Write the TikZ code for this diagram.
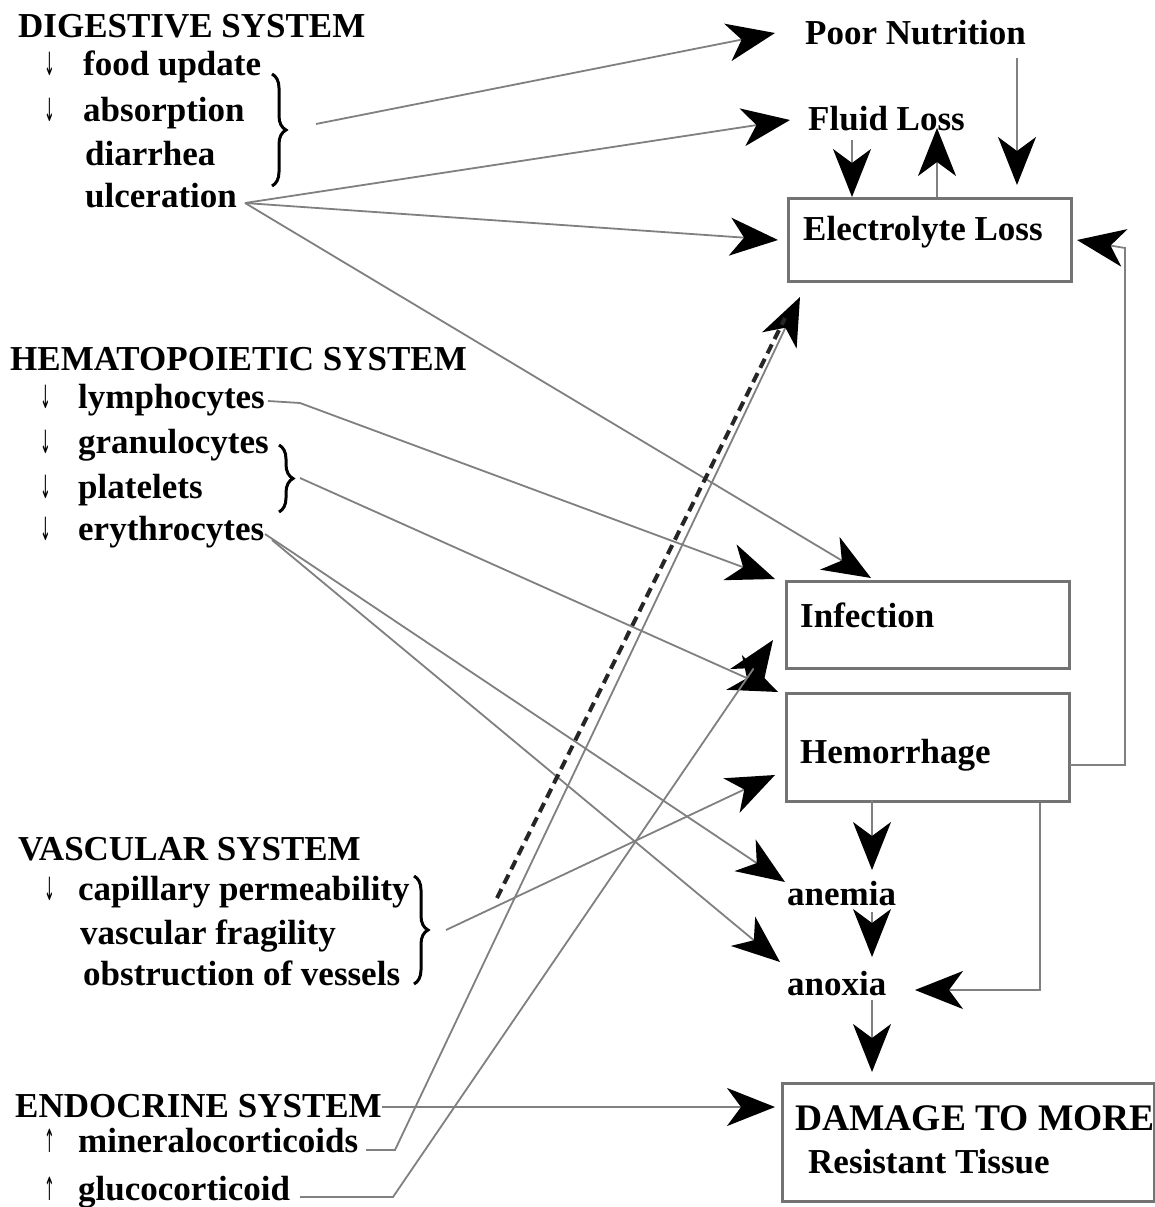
\documentclass[tikz,border=0pt]{standalone}
\usepackage{fontspec}
\usepackage{graphicx}
\setmainfont{Liberation Serif}
\newfontfamily\arrfont{DejaVu Sans}
\usetikzlibrary{arrows.meta,decorations.pathreplacing}
\newcommand{\dn}{{\arrfont\scalebox{0.4}[1]{↓}}}
\newcommand{\upa}{{\arrfont\scalebox{0.4}[1]{↑}}}
\begin{document}
\begin{tikzpicture}[x=1pt,y=-1pt,
  lbl/.style={anchor=base west, inner sep=0pt, font=\fontsize{35}{40}\selectfont\bfseries},
  ar/.style={anchor=base west, inner sep=0pt, font=\fontsize{32}{34}\selectfont},
  conn/.style={draw=black!50, line width=1.8pt, -{Stealth[length=48pt,width=38pt,inset=14pt,color=black]}},
  box/.style={draw=black!55, line width=2.5pt, anchor=north west, inner sep=0pt},
  brc/.style={decorate, decoration={brace, amplitude=14pt}, line width=3pt}]
\useasboundingbox (0,0) rectangle (1154,1207);
\fill[white] (0,0) rectangle (1154,1207);

% ---------- Digestive system
\node[lbl] (dig) at (18,38) {DIGESTIVE SYSTEM};
\node[ar] (d1a) at (44,76) {\dn};
\node[lbl] (d1) at (83,76) {food update};
\node[ar] (d2a) at (44,121) {\dn};
\node[lbl] (d2) at (83,121) {absorption};
\node[lbl] (d3) at (85,165) {diarrhea};
\node[lbl] (d4) at (85,207) {ulceration};
\draw[brc] (272,74) -- (272,186);
\coordinate (dbr) at (316,124);
\coordinate (ulc) at (245,203);

% ---------- Hematopoietic system
\node[lbl] (hem) at (10,370) {HEMATOPOIETIC SYSTEM};
\node[ar] (h1a) at (40,408) {\dn};
\node[lbl] (h1) at (78,408) {lymphocytes};
\node[ar] (h2a) at (40,453) {\dn};
\node[lbl] (h2) at (78,453) {granulocytes};
\node[ar] (h3a) at (40,498) {\dn};
\node[lbl] (h3) at (78,498) {platelets};
\node[ar] (h4a) at (40,540) {\dn};
\node[lbl] (h4) at (78,540) {erythrocytes};
\draw[brc] (279,445) -- (279,512);
\coordinate (hbr) at (300,478);
\coordinate (lym) at (268,401);
\coordinate (ery) at (265,534);

% ---------- Vascular system
\node[lbl] (vas) at (18,860) {VASCULAR SYSTEM};
\node[ar] (v1a) at (44,900) {\dn};
\node[lbl] (v1) at (78,900) {capillary permeability};
\node[lbl] (v2) at (80,944) {vascular fragility};
\node[lbl] (v3) at (83,985) {obstruction of vessels};
\draw[brc] (414,876) -- (414,984);
\coordinate (vbr) at (446,930);

% ---------- Endocrine system
\node[lbl] (end) at (15,1117) {ENDOCRINE SYSTEM};
\node[ar] (e1a) at (44,1152) {\upa};
\node[lbl] (e1) at (78,1152) {mineralocorticoids};
\node[ar] (e2a) at (44,1200) {\upa};
\node[lbl] (e2) at (78,1200) {glucocorticoid};

% ---------- Right column
\node[lbl] (poor) at (805,45) {Poor Nutrition};
\node[lbl] (fluid) at (808,130) {Fluid Loss};
\node[box, minimum width=283pt, minimum height=83pt] (elec) at (787,197) {};
\node[lbl] (elect) at (803,240) {Electrolyte Loss};
\node[box, minimum width=283pt, minimum height=87pt] (inf) at (785,580) {};
\node[lbl] (inft) at (800,627) {Infection};
\node[box, minimum width=283pt, minimum height=108pt] (hmr) at (785,692) {};
\node[lbl] (hmrt) at (800,763) {Hemorrhage};
\node[lbl] (anem) at (787,905) {anemia};
\node[lbl] (anox) at (787,995) {anoxia};
\node[box, minimum width=372pt, minimum height=118pt] (dmg) at (781,1082) {};
\node[lbl, font=\fontsize{37.5}{40}\selectfont\bfseries] (dmgt) at (795,1130) {DAMAGE TO MORE};
\node[lbl] (dmgt2) at (808,1173) {Resistant Tissue};

% ---------- Connectors from the left
\draw[conn] (dbr) -- (775,33);
\draw[conn] (ulc) -- (790,120);
\draw[conn] (ulc) -- (778,240);
\draw[conn] (ulc) -- (871,578);
\draw[conn] (lym) -- (300,403) -- (775,579);
\draw[conn] (hbr) -- (778,692);
\draw[conn] (ery) -- (785,882);
\draw[conn] (272,540) -- (780,962);
\draw[conn] (vbr) -- (775,775);
\draw[conn] (366,1150) -- (395,1150) -- (800,297);
\draw[line width=4pt, dash pattern=on 10pt off 6pt, black!85] (497,898) -- (785,318);
\draw[conn] (300,1197) -- (393,1197) -- (773,640);
\draw[conn] (382,1107) -- (775,1107);

% ---------- Connectors on the right
\draw[conn] (852,140) -- (852,197);
\draw[conn] (937,197) -- (937,128);
\draw[conn] (1017,58) -- (1017,185);
\draw[conn] (1070,765) -- (1125,765) -- (1125,248) -- (1077,240);
\draw[conn] (872,800) -- (872,870);
\draw[conn] (872,912) -- (872,957);
\draw[conn] (1040,803) -- (1040,990) -- (915,990);
\draw[conn] (872,1000) -- (872,1072);
\end{tikzpicture}
\end{document}
